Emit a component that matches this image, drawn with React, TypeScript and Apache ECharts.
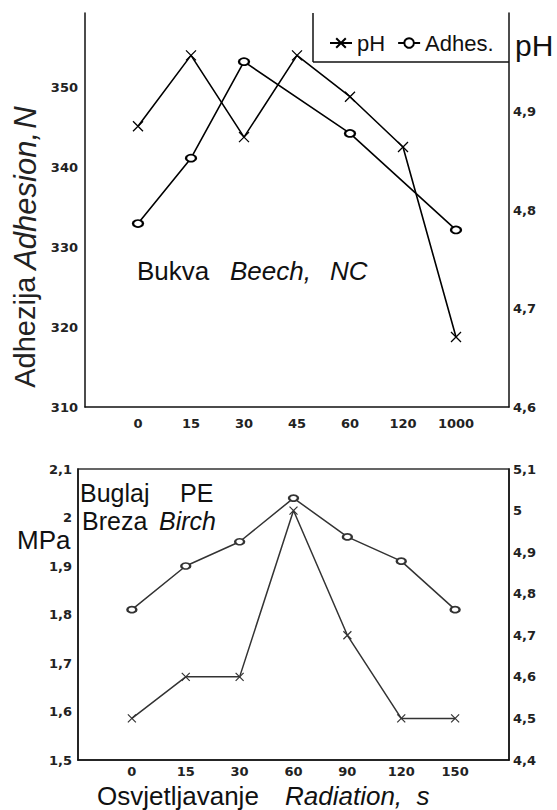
import React, { useEffect, useRef } from "react";
import * as echarts from "echarts";

// ---- Data (top chart: Bukva / Beech, NC) ----
const topCategories = ["0", "15", "30", "45", "60", "120", "1000"];
const topPH = [4.885, 4.957, 4.874, 4.957, 4.915, 4.864, 4.671];
const topAdhesion: (number | null)[] = [333, 341.2, 353.3, null, 344.3, null, 332.2];

// ---- Data (bottom chart: Buglaj PE, Breza / Birch) ----
const bottomCategories = ["0", "15", "30", "60", "90", "120", "150"];
const bottomPH = [4.5, 4.6, 4.6, 5.0, 4.7, 4.5, 4.5];
const bottomMPa = [1.81, 1.9, 1.95, 2.04, 1.96, 1.91, 1.81];

const pad = <T,>(arr: T[], blank: T): T[] => [blank, ...arr, blank];
const comma = (v: number) => String(Math.round(v * 10) / 10).replace(".", ",");

const SANS = "'Liberation Sans', Arial, sans-serif";
const TICK_FONT = "'DejaVu Sans', sans-serif";
const CROSS = "path://M0,0L10,10M10,0L0,10";

export default function App() {
  const ref = useRef<HTMLDivElement>(null);

  useEffect(() => {
    if (!ref.current) return;
    const chart = echarts.init(ref.current, undefined, { renderer: "svg" });

    const tickLabel = {
      fontFamily: TICK_FONT,
      fontSize: 13,
      fontWeight: "bold" as const,
      color: "#222",
    };
    const axisLine = { show: true, lineStyle: { color: "#111", width: 1.5 } };
    const txt = (x: number, y: number, text: string, size: number, italic = false) => ({
      type: "text",
      x,
      y,
      style: {
        text,
        font: `${italic ? "italic " : ""}${size}px ${SANS}`,
        fill: "#111",
        verticalAlign: "middle",
      },
    });

    chart.setOption({
      animation: false,
      backgroundColor: "#fff",
      grid: [
        { left: 85, top: 13, width: 424, height: 394, show: false },
        {
          left: 78,
          top: 469,
          width: 431,
          height: 291,
          show: true,
          borderColor: "#333",
          borderWidth: 1.5,
          backgroundColor: "transparent",
        },
      ],
      legend: {
        data: ["pH", "Adhes."],
        left: 324,
        top: 27,
        itemWidth: 22,
        itemHeight: 12,
        itemGap: 12,
        textStyle: { fontFamily: SANS, fontSize: 22, color: "#111" },
      },
      xAxis: [
        {
          type: "category",
          gridIndex: 0,
          data: pad(topCategories, ""),
          boundaryGap: false,
          axisLine,
          axisTick: { show: false },
          axisLabel: { ...tickLabel, margin: 10, interval: 0 },
          splitLine: { show: false },
        },
        {
          type: "category",
          gridIndex: 1,
          data: pad(bottomCategories, ""),
          boundaryGap: false,
          axisLine,
          axisTick: { show: false },
          axisLabel: { ...tickLabel, margin: 5, interval: 0 },
          splitLine: { show: false },
        },
      ],
      yAxis: [
        {
          type: "value",
          gridIndex: 0,
          position: "left",
          min: 310,
          max: 359.4,
          interval: 10,
          axisLine,
          axisTick: { show: false },
          splitLine: { show: false },
          axisLabel: { ...tickLabel, margin: 7, showMaxLabel: false },
        },
        {
          type: "value",
          gridIndex: 0,
          position: "right",
          min: 4.6,
          max: 5.0,
          interval: 0.1,
          axisLine,
          axisTick: { show: false },
          splitLine: { show: false },
          axisLabel: { ...tickLabel, margin: 4, showMaxLabel: false, formatter: comma },
        },
        {
          type: "value",
          gridIndex: 1,
          position: "left",
          min: 1.5,
          max: 2.1,
          interval: 0.1,
          axisLine,
          axisTick: { show: false },
          splitLine: { show: false },
          axisLabel: { ...tickLabel, margin: 6, formatter: comma },
        },
        {
          type: "value",
          gridIndex: 1,
          position: "right",
          min: 4.4,
          max: 5.1,
          interval: 0.1,
          axisLine,
          axisTick: { show: false },
          splitLine: { show: false },
          axisLabel: { ...tickLabel, margin: 4, formatter: comma },
        },
      ],
      series: [
        {
          name: "pH",
          type: "line",
          xAxisIndex: 0,
          yAxisIndex: 1,
          data: pad<number | null>(topPH, null),
          symbol: CROSS,
          symbolSize: 10,
          itemStyle: { color: "#000", borderColor: "#000", borderWidth: 1.3 },
          lineStyle: { color: "#000", width: 1.6 },
        },
        {
          name: "Adhes.",
          type: "line",
          xAxisIndex: 0,
          yAxisIndex: 0,
          data: pad<number | null>(topAdhesion, null),
          connectNulls: true,
          symbol: "emptyCircle",
          symbolSize: [10, 7],
          itemStyle: { color: "#000", borderColor: "#000", borderWidth: 1.3 },
          lineStyle: { color: "#000", width: 1.6 },
        },
        {
          name: "pH (PE)",
          type: "line",
          xAxisIndex: 1,
          yAxisIndex: 3,
          data: pad<number | null>(bottomPH, null),
          symbol: CROSS,
          symbolSize: 8,
          itemStyle: { color: "#333", borderColor: "#333", borderWidth: 1.2 },
          lineStyle: { color: "#333", width: 1.5 },
        },
        {
          name: "MPa",
          type: "line",
          xAxisIndex: 1,
          yAxisIndex: 2,
          data: pad<number | null>(bottomMPa, null),
          symbol: "emptyCircle",
          symbolSize: [9, 6],
          itemStyle: { color: "#333", borderColor: "#333", borderWidth: 1.2 },
          lineStyle: { color: "#333", width: 1.5 },
        },
      ],
      graphic: [
        // legend box (left and bottom edges)
        { type: "line", shape: { x1: 313, y1: 13, x2: 313, y2: 62 }, style: { stroke: "#111", lineWidth: 1.5 } },
        { type: "line", shape: { x1: 313, y1: 62, x2: 509, y2: 62 }, style: { stroke: "#111", lineWidth: 1.5 } },
        // right axis name
        txt(515, 45, "pH", 30),
        // left rotated title
        {
          type: "text",
          x: 25,
          y: 247,
          rotation: Math.PI / 2,
          style: {
            text: "{a|Adhezija}  {b|Adhesion,} {b|N}",
            align: "center",
            verticalAlign: "middle",
            fill: "#222",
            rich: {
              a: { fontFamily: SANS, fontSize: 29, fill: "#222" },
              b: { fontFamily: SANS, fontSize: 31, fontStyle: "italic", fill: "#222" },
            },
          },
        },
        // top chart caption
        txt(137, 271, "Bukva", 26),
        txt(230, 271, "Beech,", 26, true),
        txt(330, 271, "NC", 26, true),
        // bottom chart caption
        txt(80, 493, "Buglaj", 25),
        txt(180, 493, "PE", 25),
        txt(82, 521, "Breza", 25),
        txt(159, 521, "Birch", 25, true),
        txt(17, 540, "MPa", 26),
        // bottom x title
        txt(97, 796, "Osvjetljavanje", 26),
        txt(285, 796, "Radiation,  s", 26, true),
      ],
    });

    return () => chart.dispose();
  }, []);

  return (
    <div
      ref={ref}
      style={{ position: "absolute", left: 0, top: 0, width: 557, height: 810, background: "#fff" }}
    />
  );
}
